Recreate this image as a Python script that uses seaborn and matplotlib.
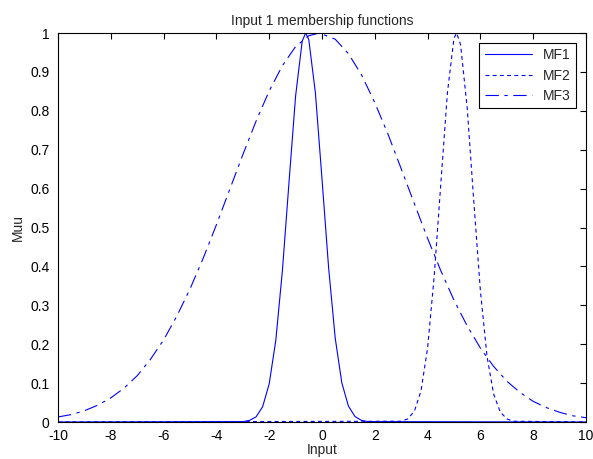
import numpy as np
import pandas as pd
import matplotlib
matplotlib.use("Agg")
import matplotlib.pyplot as plt
import seaborn as sns

# values (x: input, y: membership degree)
mf1_x = [-10, -3.0, -2.75, -2.5, -2.25, -2.0, -1.75, -1.5, -1.25, -1.0, -0.75, -0.62,
         -0.5, -0.25, 0.0, 0.25, 0.5, 0.75, 1.0, 1.25, 1.5, 1.75, 10]
mf1_y = [0.0, 0.001, 0.004, 0.013, 0.039, 0.098, 0.210, 0.389, 0.616, 0.838, 0.979, 1.0,
         0.983, 0.846, 0.625, 0.397, 0.216, 0.101, 0.041, 0.014, 0.004, 0.001, 0.0]

mf2_x = [-10, 3.0, 3.25, 3.5, 3.75, 4.0, 4.25, 4.5, 4.75, 5.0, 5.1, 5.25, 5.5, 5.75,
         6.0, 6.25, 6.5, 6.75, 7.0, 7.25, 10]
mf2_y = [0.0, 0.002, 0.008, 0.028, 0.080, 0.190, 0.375, 0.612, 0.846, 0.987, 1.0, 0.970,
         0.807, 0.567, 0.337, 0.169, 0.072, 0.026, 0.008, 0.002, 0.0]

mf3_x = [-10, -9.5, -9, -8.5, -8, -7.5, -7, -6.5, -6, -5.5, -5, -4.5, -4, -3.5, -3,
         -2.5, -2, -1.5, -1, -0.5, -0.1, 0.5, 1, 1.5, 2, 2.5, 3, 3.5, 4, 4.5, 5, 5.5,
         6, 6.5, 7, 7.5, 8, 8.5, 9, 9.5, 10]
mf3_y = [0.013, 0.019, 0.029, 0.043, 0.062, 0.087, 0.119, 0.161, 0.211, 0.272, 0.342,
         0.421, 0.507, 0.597, 0.687, 0.773, 0.851, 0.916, 0.965, 0.993, 1.0, 0.984,
         0.947, 0.892, 0.821, 0.740, 0.651, 0.561, 0.472, 0.389, 0.313, 0.247, 0.190,
         0.143, 0.105, 0.076, 0.053, 0.037, 0.025, 0.016, 0.011]

x_ticks = [-10, -8, -6, -4, -2, 0, 2, 4, 6, 8, 10]
y_ticks = [0, 0.1, 0.2, 0.3, 0.4, 0.5, 0.6, 0.7, 0.8, 0.9, 1]
y_ticklabels = ["0", "0.1", "0.2", "0.3", "0.4", "0.5", "0.6", "0.7", "0.8", "0.9", "1"]

sns.set_style("white")
plt.rcParams["font.family"] = ["Liberation Sans", "DejaVu Sans"]
plt.rcParams["font.size"] = 10

fig = plt.figure(figsize=(5.93, 4.59), dpi=100)
ax = fig.add_axes([0.0978, 0.0806, 0.8904, 0.8475])

blue = "#0000ff"
sns.lineplot(x=mf1_x, y=mf1_y, ax=ax, color=blue, lw=0.8, label="MF1")
sns.lineplot(x=mf2_x, y=mf2_y, ax=ax, color=blue, lw=0.8, label="MF2",
             linestyle=(0, (3.5, 3)))
sns.lineplot(x=mf3_x, y=mf3_y, ax=ax, color=blue, lw=0.8, label="MF3",
             linestyle=(0, (12, 5, 3, 5)))

ax.set_xlim(-10, 10)
ax.set_ylim(0, 1)
ax.set_xticks(x_ticks)
ax.set_yticks(y_ticks)
ax.set_xticklabels([str(t) for t in x_ticks])
ax.set_yticklabels(y_ticklabels)
ax.tick_params(direction="in", length=4, width=0.8, top=True, right=True,
               labelsize=10, colors="black")
ax.tick_params(axis="x", pad=5)
ax.tick_params(axis="y", pad=6)
for s in ax.spines.values():
    s.set_color("black")
    s.set_linewidth(0.8)

ax.set_title("Input 1 membership functions", fontsize=10, pad=6)
ax.set_xlabel("Input", fontsize=10, labelpad=0)
ax.set_ylabel("Muu", fontsize=10, labelpad=4)

leg = ax.legend(loc="upper right", fancybox=False, framealpha=1, edgecolor="black",
                fontsize=10, handlelength=3.4, borderaxespad=0.7, labelspacing=0.45)
leg.get_frame().set_linewidth(0.8)

plt.savefig("out.png", dpi=100)
plt.close()
